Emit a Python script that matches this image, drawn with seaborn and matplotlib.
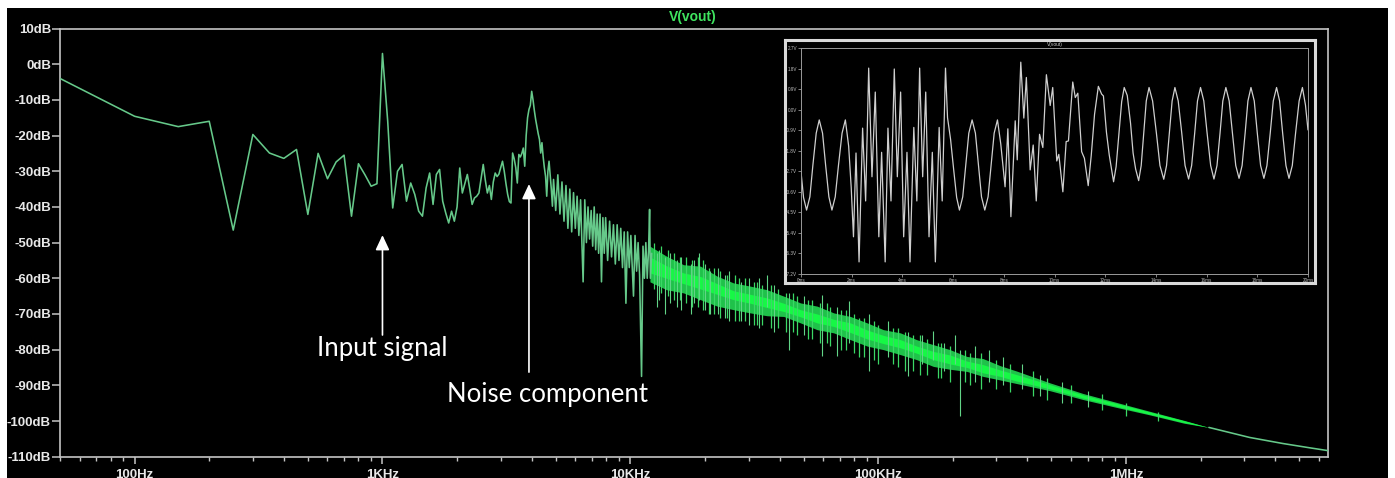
import numpy as np
import matplotlib
matplotlib.use("Agg")
import matplotlib.pyplot as plt
from matplotlib.patches import Rectangle
from matplotlib.ticker import FixedLocator, NullFormatter
import seaborn as sns

# ---------------- data ----------------
# resolved part of the FFT spectrum (Hz, dB)
spec_hz = [50, 100, 150, 200, 250, 300, 350, 400, 450, 500, 550, 600, 650, 700, 750,
           800, 850, 900, 950, 1000, 1050, 1100, 1150, 1200, 1250, 1300, 1350, 1400,
           1450, 1500, 1550, 1600, 1650, 1700, 1750, 1800, 1850, 1900, 1950, 2000,
           2050, 2100, 2150, 2200, 2250, 2300, 2350, 2400, 2450, 2500, 2550, 2600,
           2650, 2700, 2750, 2800, 2850, 2900, 2950, 3000, 3050, 3100, 3150, 3200,
           3250, 3300, 3350, 3400, 3450, 3500, 3550, 3600, 3650, 3700, 3750, 3800,
           3850, 3900, 3950, 4000, 4050, 4100, 4150, 4200, 4250, 4300, 4350, 4400,
           4450, 4500, 4550, 4600, 4650, 4700, 4750, 4800, 4850, 4900,
           5000, 5100, 5200, 5300, 5400, 5500, 5600, 5700, 5800, 5900, 6000, 6100,
           6200, 6300, 6450, 6550, 6650, 6750, 6850, 6950, 7050, 7150, 7250, 7350,
           7450, 7550, 7650, 7750, 7850, 7950, 8100, 8250, 8400, 8550, 8700, 8850,
           9000, 9150, 9300, 9450, 9600, 9750, 9900, 10050, 10300, 10450, 10600,
           10750, 10900, 11100, 11250, 11400, 11550, 11700, 11850, 11960, 12050, 12200]
spec_db = [-4.0, -14.6, -17.5, -16.0, -46.5, -19.7, -24.9, -26.4, -23.9, -42.1, -25.0,
           -32.1, -27.4, -25.5, -42.6, -27.9, -31.0, -34.2, -33.5, 3.0, -16.0, -40.3,
           -30.0, -28.1, -38.4, -33.3, -36.5, -41.2, -42.6, -34.7, -30.5, -39.3, -30.9,
           -29.5, -38.4, -41.7, -44.5, -41.2, -44.0, -40.0,
           -29.1, -36.1, -33.5, -30.9, -35.0, -39.3, -37.5, -37.0, -36.1, -32.0, -28.1,
           -32.5, -36.1, -34.0, -37.9, -33.0, -30.5, -31.5, -30.8, -29.0, -27.2, -30.0,
           -33.5, -36.5, -38.5, -38.9, -24.9, -26.5, -29.0, -33.3, -25.3, -26.0, -25.0,
           -23.5, -28.6, -20.0, -15.0, -12.7, -11.5, -7.6, -10.0, -13.0, -15.5, -17.5,
           -19.5, -21.1, -24.9, -22.0, -26.0, -29.0, -31.4, -37.0, -30.0, -27.2, -31.0,
           -35.0, -39.8, -32.3,
           -41, -31, -42, -33, -44, -34, -46, -35, -47, -36, -46, -37,
           -48, -38, -61, -38, -50, -40, -49, -41, -51, -40, -52, -42,
           -53, -42, -61, -43, -53, -43, -55, -44, -54, -45, -56, -45,
           -55, -46, -57, -47, -67, -47, -57, -48, -65, -48, -58,
           -50, -59, -87.5, -51, -60, -50, -60, -52, -40.7, -60, -53]

# dense part of the spectrum: envelope of the band and of its bright core
band_hz = [12000, 14000, 16400, 19200, 22400, 26100, 30500, 35600, 41600, 48600, 56700,
           66200, 77300, 90300, 105000, 123000, 143000, 167000, 195000, 228000, 265000,
           311000, 362000, 493000, 672000, 917000, 1250000, 1710000, 2160000]
band_top = [-51, -53.8, -56.2, -56.6, -59.4, -61.3, -62.2, -63.2, -65.0, -66.9, -67.8,
            -69.7, -70.7, -72.5, -74.4, -75.3, -77.2, -78.6, -80.0, -81.9, -82.5,
            -84.5, -86.0, -89.3, -92.3, -94.8, -97.3, -99.8, -101.8]
band_bot = [-61, -63.2, -64.1, -66.0, -67.8, -68.8, -69.7, -70.5, -70.7, -72.5, -74.4,
            -75.3, -77.2, -79.0, -80.0, -81.4, -82.8, -84.7, -85.5, -86.1, -87.5,
            -88.5, -89.5, -91.5, -94.0, -96.2, -98.3, -100.6, -101.8]
core_top = [-54, -56.5, -58.5, -59.5, -61.5, -63.5, -64.5, -65.5, -67, -68.8, -70,
            -71.5, -72.5, -74.5, -76, -77.2, -79, -80.5, -81.5, -83.2, -84.2,
            -85.7, -87, -89.8, -92.7, -95.1, -97.5, -99.9, -101.8]
core_bot = [-58.5, -60, -61.5, -63, -64.5, -66, -67, -68.2, -69.3, -70.8, -72.5,
            -73.5, -75.2, -77, -78.3, -79.5, -81, -82.8, -84, -85, -86.5,
            -87.5, -88.8, -91, -93.6, -95.9, -98.1, -100.4, -101.8]

# short strokes that make the band edges ragged
hair_hz = [12500, 13300, 14200, 15000, 15800, 16800, 17800, 18800, 19700, 20700, 21800,
           23000, 24500, 26500, 27500, 29000, 31500, 32500, 34000, 37000, 39500, 42500,
           45500, 47000, 52000, 54000, 58000, 62000, 64000, 71000, 74000, 80000, 84000,
           88000, 96000, 100000, 115000, 120000, 128000, 138000, 147000, 158000, 175000,
           180000, 195000, 225000, 235000, 260000, 300000, 340000, 420000, 480000,
           600000, 800000, 1000000, 1350000]
hair_top = [-50, -51, -52, -53, -54, -54, -55, -54, -55, -57, -57, -58, -59, -59, -60,
            -60, -61, -61, -62, -62, -63, -64, -64, -65, -66, -66, -67, -67, -68, -69,
            -69, -70, -71, -71, -72, -73, -74, -74, -75, -76, -76, -77, -78, -78, -79,
            -80, -81, -81, -83, -84, -86, -88, -90, -92.5, -95, -97.5]
hair_bot = [-63, -64, -65, -66, -66, -67, -68, -68, -69, -70, -70, -71, -71, -72, -72,
            -72, -73, -73, -73, -74, -74, -75, -75, -76, -77, -77, -78, -78, -79, -80,
            -80, -81, -82, -82, -83, -84, -84, -85, -86, -86, -87, -87, -88, -88, -89,
            -89, -90, -91, -91, -92, -93, -94, -95, -97, -98.5, -100]

# isolated strokes sticking out of the band
spike_hz = [12800, 13000, 13800, 14500, 15500, 16000, 17500, 18000, 19000, 20000, 21000,
            22500, 24000, 25000, 28000, 30000, 33000, 35600, 38000, 43800, 50000, 59600,
            68000, 76300, 92100, 110000, 132000, 150000, 167000, 185000, 205000, 213000,
            245000, 280000, 320000, 380000, 450000, 550000, 700000]
spike_top = [-53, -52, -54, -53, -55, -54, -56, -55, -53, -56, -58, -57, -59, -58, -61,
             -60, -60, -59, -62, -64, -65, -64.6, -68, -66.4, -70, -72, -75, -76, -74.9,
             -78, -75.8, -80, -79, -80, -82, -84, -87, -89, -91.5]
spike_bot = [-68, -66, -70, -67, -68, -69, -70, -67, -66, -69, -70, -70, -71, -72, -72,
             -73, -74, -68, -75, -80, -76, -81.9, -81.9, -78, -86.1, -82, -87.5, -84, -83,
             -86, -84, -98.7, -89, -89, -90, -91, -93, -95, -96]

# smooth high-frequency tail
tail_hz = [2160000, 3150000, 4290000, 5500000, 6530000]
tail_db = [-101.8, -104.6, -106.3, -107.5, -108.3]

# inset: transient V(vout), time in ms, value in V
wave_ms = [0.00, 0.10, 0.22, 0.35, 0.47, 0.60, 0.72, 0.85, 0.97, 1.10, 1.22, 1.35, 1.48,
           1.62, 1.75, 1.88, 1.98, 2.07, 2.17, 2.29, 2.43, 2.55, 2.67, 2.80, 2.93, 3.07,
           3.18, 3.32, 3.43, 3.55, 3.68, 3.80, 3.93, 4.05, 4.18, 4.30, 4.45, 4.57, 4.68,
           4.80, 4.92, 5.05, 5.18, 5.30, 5.45, 5.57, 5.70, 5.78, 5.90, 6.02, 6.14, 6.25,
           6.38, 6.50, 6.62, 6.75, 6.88, 7.00, 7.12, 7.25, 7.38, 7.50, 7.62, 7.75, 7.88,
           8.05, 8.16, 8.28, 8.45, 8.53, 8.67, 8.79, 8.89, 9.04, 9.16, 9.28, 9.41, 9.54,
           9.68, 9.83, 9.93, 10.09, 10.17, 10.33, 10.46, 10.55, 10.72, 10.82, 10.92,
           11.07, 11.18, 11.33, 11.45, 11.58, 11.73, 11.86, 11.93, 12.05, 12.16, 12.33,
           12.43, 12.54, 12.65, 12.75, 12.87, 13.00, 13.10, 13.20, 13.32,
           13.42, 13.52, 13.62, 13.73, 13.87, 14.02, 14.16, 14.31,
           14.42, 14.53, 14.64, 14.75, 14.88, 15.02, 15.15, 15.29,
           15.41, 15.53, 15.64, 15.76, 15.89, 16.02, 16.16, 16.29,
           16.41, 16.53, 16.64, 16.76, 16.89, 17.02, 17.15, 17.28,
           17.40, 17.52, 17.63, 17.75, 17.88, 18.00, 18.13, 18.26,
           18.38, 18.51, 18.63, 18.76, 18.88, 19.00, 19.13, 19.25,
           19.38, 19.51, 19.65, 19.78, 19.90, 20.00]
wave_v = [-2.72, -3.85, -4.40, -3.82, -2.42, -1.03, -0.45, -1.03, -2.42, -3.82, -4.40, -3.82,
          -2.42, -1.03, -0.45, -1.60, -3.40, -5.57, -1.90, -6.67, -0.81, -4.00, 1.82, -2.94,
          0.77, -5.57, -1.87, -6.67, -0.81, -4.00, 1.78, -2.94, 0.77, -5.57, -1.87, -6.67,
          -0.78, -4.00, 1.82, -2.94, 0.77, -5.57, -1.87, -6.67, -0.78, -4.00, 1.82, -0.35,
          -1.30, -2.60, -3.85, -4.40, -3.82, -2.42, -1.03, -0.45, -1.03, -2.42, -3.82,
          -4.40, -3.82, -2.42, -1.03, -0.45, -1.50, -3.38, -0.84, -4.69, -0.49, -2.20,
          2.08, -0.37, 1.41, -2.64, -1.55, -4.00, -1.08, -1.66, 1.53, 0.18, 0.97, -2.25,
          -1.96, -3.60, -1.40, -1.37, 1.21, 0.53, 0.72, -1.84, -2.13, -3.33, -2.00, -0.20,
          1.02, 0.68, 0.60, -1.00, -1.99, -3.16,
          -2.50, -1.10, 0.35, 0.97, 0.62, -0.60, -1.90, -2.60, -3.11,
          -2.45, -1.03, 0.38, 0.97, 0.38, -1.03, -2.45, -3.05,
          -2.45, -1.03, 0.38, 0.97, 0.38, -1.03, -2.45, -3.04,
          -2.45, -1.03, 0.38, 0.97, 0.38, -1.03, -2.45, -3.04,
          -2.45, -1.03, 0.38, 0.97, 0.38, -1.03, -2.45, -3.01,
          -2.45, -1.03, 0.38, 0.97, 0.38, -1.03, -2.45, -3.01,
          -2.45, -1.03, 0.38, 0.97, 0.38, -1.03, -2.45, -3.01,
          -2.45, -1.03, 0.38, 0.97, 0.20, -0.89]

# ticks and labels
ytick_db = [10, 0, -10, -20, -30, -40, -50, -60, -70, -80, -90, -100, -110]
ytick_labels = ["10dB", "0dB", "-10dB", "-20dB", "-30dB", "-40dB", "-50dB", "-60dB",
                "-70dB", "-80dB", "-90dB", "-100dB", "-110dB"]
xtick_hz = [100, 1000, 10000, 100000, 1000000]
xtick_labels = ["100Hz", "1KHz", "10KHz", "100KHz", "1MHz"]
inset_yticks = [2.7, 1.8, 0.9, 0.0, -0.9, -1.8, -2.7, -3.6, -4.5, -5.4, -6.3, -7.2]
inset_ylabels = ["2.7V", "1.8V", "0.9V", "0.0V", "-0.9V", "-1.8V", "-2.7V", "-3.6V",
                 "-4.5V", "-5.4V", "-6.3V", "-7.2V"]
inset_xticks = [0, 2, 4, 6, 8, 10, 12, 14, 16, 18, 20]
inset_xlabels = ["0ms", "2ms", "4ms", "6ms", "8ms", "10ms", "12ms", "14ms", "16ms",
                 "18ms", "20ms"]

# annotations (Hz, dB)
input_arrow = (1000, -47.9, -75.9)
noise_arrow = (3900, -33.6, -86.3)
input_text = (1000, -81.8, "Input signal")
noise_text = (4624, -94.7, "Noise component")

# ---------------- drawing ----------------
sns.set_style("ticks")
plt.rcParams['font.family'] = ['Liberation Sans', 'DejaVu Sans']

W, H = 1395, 478
fig = plt.figure(figsize=(W / 100, H / 100), dpi=100, facecolor='white')
fig.add_artist(Rectangle((7 / W, 0), 1381 / W, 470 / H, transform=fig.transFigure,
                         facecolor='black', edgecolor='none', zorder=-5))

ax = fig.add_axes([60 / W, (H - 456.7) / H, 1268 / W, 428.2 / H])
ax.set_facecolor('black')
ax.set_xscale('log')

line_col = '#66c98a'
ax.fill_between(band_hz, band_bot, band_top, color='#1fc24a', lw=0, zorder=2)
ax.fill_between(band_hz, core_bot, core_top, color='#16f845', lw=0, zorder=3)
ax.vlines(hair_hz, hair_bot, hair_top, color='#3bd866', lw=0.9, zorder=3.5)
ax.vlines(spike_hz, spike_bot, spike_top, color='#62d487', lw=0.8, zorder=4)
sns.lineplot(x=spec_hz, y=spec_db, ax=ax, color=line_col, lw=1.15, estimator=None,
             sort=False, zorder=5)
sns.lineplot(x=tail_hz, y=tail_db, ax=ax, color=line_col, lw=1.15, estimator=None,
             sort=False, zorder=5)

ax.set_xlim(50, 6.53e6)
ax.set_ylim(-110, 10)
ax.grid(False)
ax.set_xlabel('')
ax.set_ylabel('')

spine_col = '#c4c4c4'
for s in ax.spines.values():
    s.set_visible(True)
    s.set_color(spine_col)
    s.set_linewidth(1.2)

ax.yaxis.set_major_locator(FixedLocator(ytick_db))
ax.set_yticklabels(ytick_labels, fontweight='bold', fontsize=9.5, color='#e8e8e8')
ax.tick_params(axis='y', which='major', length=6, width=1.1, color=spine_col, pad=0.5,
               direction='out')
ax.xaxis.set_major_locator(FixedLocator(xtick_hz))
ax.set_xticklabels(xtick_labels, fontweight='bold', fontsize=9.5, color='#e8e8e8')
minor = [m * 10 ** e for e in range(1, 7) for m in range(2, 10)]
ax.xaxis.set_minor_locator(FixedLocator(minor))
ax.xaxis.set_minor_formatter(NullFormatter())
ax.tick_params(axis='x', which='major', length=5, width=1.1, color=spine_col, pad=3.5,
               direction='out')
ax.tick_params(axis='x', which='minor', length=3, width=1.0, color=spine_col,
               direction='out')

# arrows + notes
for fx, tip, tail in (input_arrow, noise_arrow):
    ax.annotate('', xy=(fx, tip), xytext=(fx, tail),
                arrowprops=dict(arrowstyle='-|>,head_length=0.6,head_width=0.28',
                                color='white', lw=1.2, mutation_scale=15,
                                shrinkA=0, shrinkB=0), zorder=6)
for fx, fy, txt in (input_text, noise_text):
    ax.text(fx, fy, txt, ha='center', va='baseline', color='white', fontsize=18.5,
            family=['Lato', 'DejaVu Sans'], zorder=6)

fig.text(693 / W, 1 - 17.5 / H, 'V(vout)', ha='center', va='center', color='#3fe35f',
         fontsize=10, fontweight='bold')

# inset
ax_box = fig.add_axes([785 / W, (H - 283) / H, 530 / W, 243 / H])
ax_box.set_zorder(3)
ax_box.set_facecolor('black')
ax_box.set_xticks([])
ax_box.set_yticks([])
for s in ax_box.spines.values():
    s.set_visible(True)
    s.set_color('#d9d9d9')
    s.set_linewidth(2.2)

ax_in = fig.add_axes([801 / W, (H - 274) / H, 507 / W, 226 / H])
ax_in.set_zorder(4)
ax_in.set_facecolor('black')
sns.lineplot(x=wave_ms, y=wave_v, ax=ax_in, color='#cfcfcf', lw=0.9, estimator=None,
             sort=False)
ax_in.set_xlim(0, 20)
ax_in.set_ylim(-7.2, 2.7)
ax_in.grid(False)
ax_in.set_xlabel('')
ax_in.set_ylabel('')
for s in ax_in.spines.values():
    s.set_visible(True)
    s.set_color('#9a9a9a')
    s.set_linewidth(0.7)
ax_in.yaxis.set_major_locator(FixedLocator(inset_yticks))
ax_in.set_yticklabels(inset_ylabels, fontsize=3.3, color='#bdbdbd')
ax_in.xaxis.set_major_locator(FixedLocator(inset_xticks))
ax_in.set_xticklabels(inset_xlabels, fontsize=3.3, color='#bdbdbd')
ax_in.tick_params(length=2, width=0.6, color='#9a9a9a', pad=0.8, direction='out')
ax_in.set_title('V(vout)', fontsize=3.5, color='#cfcfcf', pad=1.2)

fig.savefig('out.png', dpi=100, facecolor=fig.get_facecolor())
